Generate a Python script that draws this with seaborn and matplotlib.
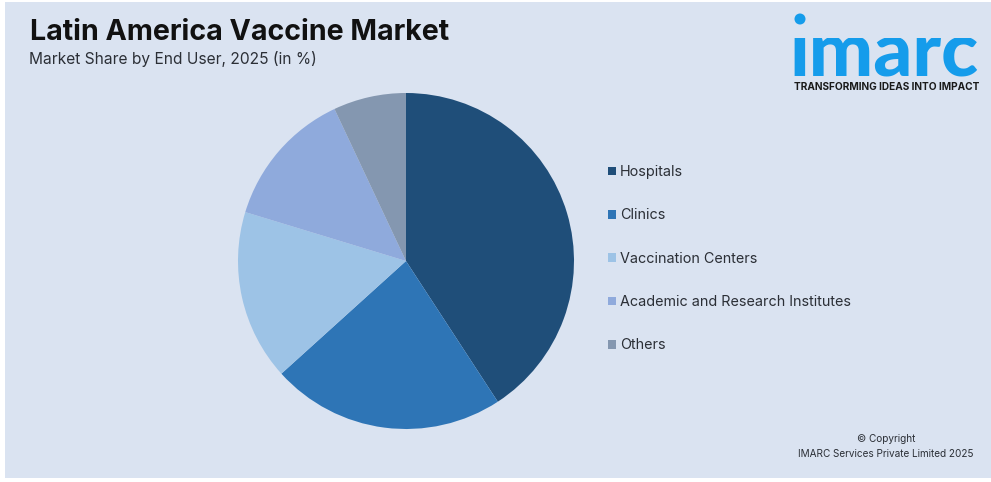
"""Latin America Vaccine Market - share by end user pie chart."""

import matplotlib.pyplot as plt
from matplotlib.patches import Circle, Patch, Rectangle
import seaborn as sns

# values
categories = ["Hospitals", "Clinics", "Vaccination Centers",
              "Academic and Research Institutes", "Others"]
shares = [40.8, 22.5, 16.4, 13.3, 7]
slice_colors = ["#1F4E79", "#2E75B6", "#9DC3E6", "#8FAADC", "#8497B0"]

W, H = 991, 482
BG = "#DAE3F1"

sns.set_theme(style="white")
plt.rcParams["font.family"] = ["Inter", "DejaVu Sans"]
palette = sns.color_palette(slice_colors)

fig = plt.figure(figsize=(W / 100, H / 100), dpi=100, facecolor="white")
fig.add_artist(Rectangle((5 / W, 1 - 478 / H), 986 / W, 476 / H,
                         transform=fig.transFigure, color=BG, lw=0, zorder=-1))

# pie
ax = fig.add_axes([238 / W, 1 - 429 / H, 336 / W, 336 / H], facecolor="none")
ax.pie(shares, colors=palette, startangle=90, counterclock=False, radius=1,
       wedgeprops={"linewidth": 0})
ax.set_xlim(-1, 1)
ax.set_ylim(-1, 1)
ax.set_aspect("equal")

# titles
fig.text(30 / W, 1 - 40 / H, "Latin America Vaccine Market", fontsize=20.6,
         fontweight="bold", color="#111111", va="baseline")
fig.text(29 / W, 1 - 64 / H, "Market Share by End User, 2025 (in %)", fontsize=11.2,
         color="#2B2F36", va="baseline")

# legend
handles = [Patch(facecolor=c, edgecolor="none", label=n) for c, n in zip(palette, categories)]
fig.legend(handles=handles, loc="upper left", bbox_to_anchor=(608 / W, 1 - 165 / H),
           bbox_transform=fig.transFigure, frameon=False, fontsize=10.35,
           labelcolor="#2B2F36", handlelength=0.56, handleheight=0.56, handletextpad=0.27,
           labelspacing=2.04, borderpad=0, borderaxespad=0)

# logo - the wordmark's own i-dot is clipped, the real one sits higher up
logo_ax = fig.add_axes([0, 0, 1, 1], facecolor="none")
logo_ax.set_xlim(0, W)
logo_ax.set_ylim(H, 0)
logo_ax.axis("off")
logo_ax.add_patch(Circle((800, 19), 5.5, color="#159CEB", lw=0))
wordmark = logo_ax.text(790, 76, "imarc", fontsize=55, fontweight="black", color="#159CEB",
                        family="Lato", va="baseline", ha="left", clip_on=True)
wordmark.set_clip_path(Rectangle((785, 38), 200, 42, transform=logo_ax.transData))
logo_ax.text(794, 90.5, "TRANSFORMING IDEAS INTO IMPACT", fontsize=7.25, fontweight="bold",
             color="#1A1A1A", va="baseline", ha="left")

# copyright
fig.text(886 / W, 1 - 442 / H, "© Copyright", fontsize=7.2, color="#2B2F36", ha="center")
fig.text(886 / W, 1 - 457 / H, "IMARC Services Private Limited 2025", fontsize=7.2,
         color="#2B2F36", ha="center")

fig.savefig("out.png", dpi=100, facecolor="white")
